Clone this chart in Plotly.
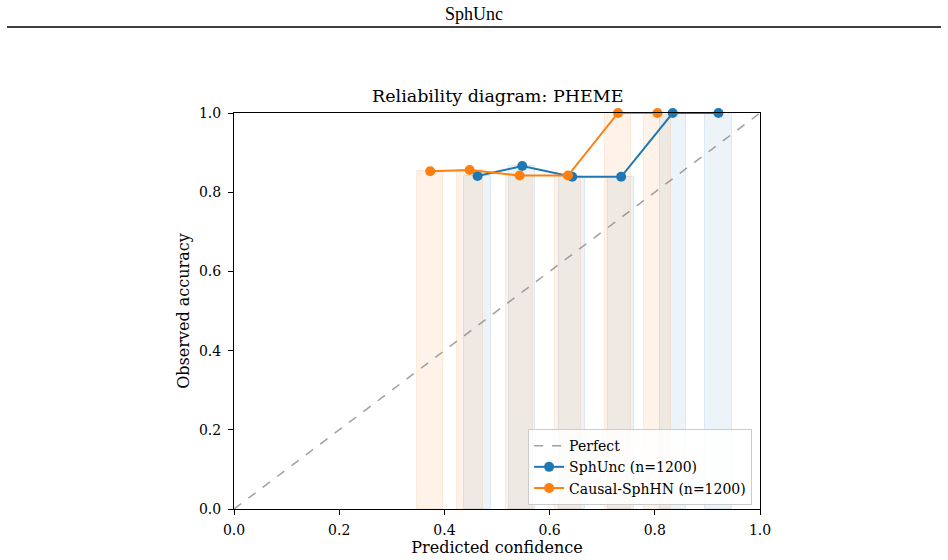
import plotly.graph_objects as go

# Data
sph_conf = [0.463, 0.548, 0.643, 0.736, 0.834, 0.921]
sph_acc = [0.841, 0.866, 0.839, 0.839, 1.0, 1.0]
causal_conf = [0.373, 0.448, 0.543, 0.635, 0.730, 0.805]
causal_acc = [0.853, 0.856, 0.842, 0.842, 1.0, 1.0]
bar_width = 0.05
perfect = [0.0, 1.0]
ticks = [0.0, 0.2, 0.4, 0.6, 0.8, 1.0]
tick_text = ["0.0", "0.2", "0.4", "0.6", "0.8", "1.0"]

BLUE = "#1f77b4"
ORANGE = "#ff7f0e"
SERIF = "DejaVu Serif"

fig = go.Figure()

fig.add_trace(go.Bar(
    x=sph_conf, y=sph_acc, width=[bar_width] * len(sph_conf), base=0,
    marker=dict(color="rgba(31,119,180,0.08)", line=dict(color="rgba(31,119,180,0.12)", width=1)),
    showlegend=False, hoverinfo="skip"))
fig.add_trace(go.Bar(
    x=causal_conf, y=causal_acc, width=[bar_width] * len(causal_conf), base=0,
    marker=dict(color="rgba(255,127,14,0.09)", line=dict(color="rgba(255,127,14,0.12)", width=1)),
    showlegend=False, hoverinfo="skip"))

fig.add_trace(go.Scatter(
    x=perfect, y=perfect, mode="lines", name="Perfect",
    line=dict(color="rgba(128,128,128,0.75)", width=1.5, dash="dash")))
fig.add_trace(go.Scatter(
    x=sph_conf, y=sph_acc, mode="lines+markers", name="SphUnc (n=1200)",
    line=dict(color=BLUE, width=2), marker=dict(color=BLUE, size=10), cliponaxis=False))
fig.add_trace(go.Scatter(
    x=causal_conf, y=causal_acc, mode="lines+markers", name="Causal-SphHN (n=1200)",
    line=dict(color=ORANGE, width=2), marker=dict(color=ORANGE, size=10), cliponaxis=False))

axis_common = dict(
    range=[0, 1], tickmode="array", tickvals=ticks, ticktext=tick_text,
    showgrid=False, zeroline=False, showline=True, linecolor="black", linewidth=1,
    mirror=True, ticks="outside", ticklen=5, tickcolor="black", automargin=False,
    tickfont=dict(family=SERIF, size=14, color="black"),
)

fig.update_layout(
    width=948, height=560,
    margin=dict(l=234, r=188, t=113, b=51),
    paper_bgcolor="white", plot_bgcolor="white",
    barmode="overlay", bargap=0,
    title=dict(text="SphUnc", x=0.5, xanchor="center", xref="container",
               y=1 - 14 / 560, yref="container", yanchor="middle",
               font=dict(family="Liberation Serif", size=18, color="black")),
    xaxis=dict(axis_common, ticklabelstandoff=3,
               title=dict(text="Predicted confidence", standoff=5,
                          font=dict(family=SERIF, size=16, color="black"))),
    yaxis=dict(axis_common, ticklabelstandoff=4,
               title=dict(text="Observed accuracy", standoff=5,
                          font=dict(family=SERIF, size=16, color="black"))),
    legend=dict(x=0.985, y=0.01, xanchor="right", yanchor="bottom",
                bgcolor="rgba(255,255,255,0.85)", bordercolor="#cccccc", borderwidth=1,
                font=dict(family=SERIF, size=14, color="black"), tracegroupgap=0),
    annotations=[dict(text="Reliability diagram: PHEME", x=0.5, y=1, xref="paper", yref="paper",
                      xanchor="center", yanchor="bottom", yshift=5, showarrow=False,
                      font=dict(family=SERIF, size=17.5, color="black"))],
    shapes=[dict(type="line", xref="paper", yref="paper",
                 x0=(7 - 234) / 526, x1=(941 - 234) / 526,
                 y0=(509 - 27) / 396, y1=(509 - 27) / 396,
                 line=dict(color="black", width=1.3))],
)

fig.write_html("out.html")
